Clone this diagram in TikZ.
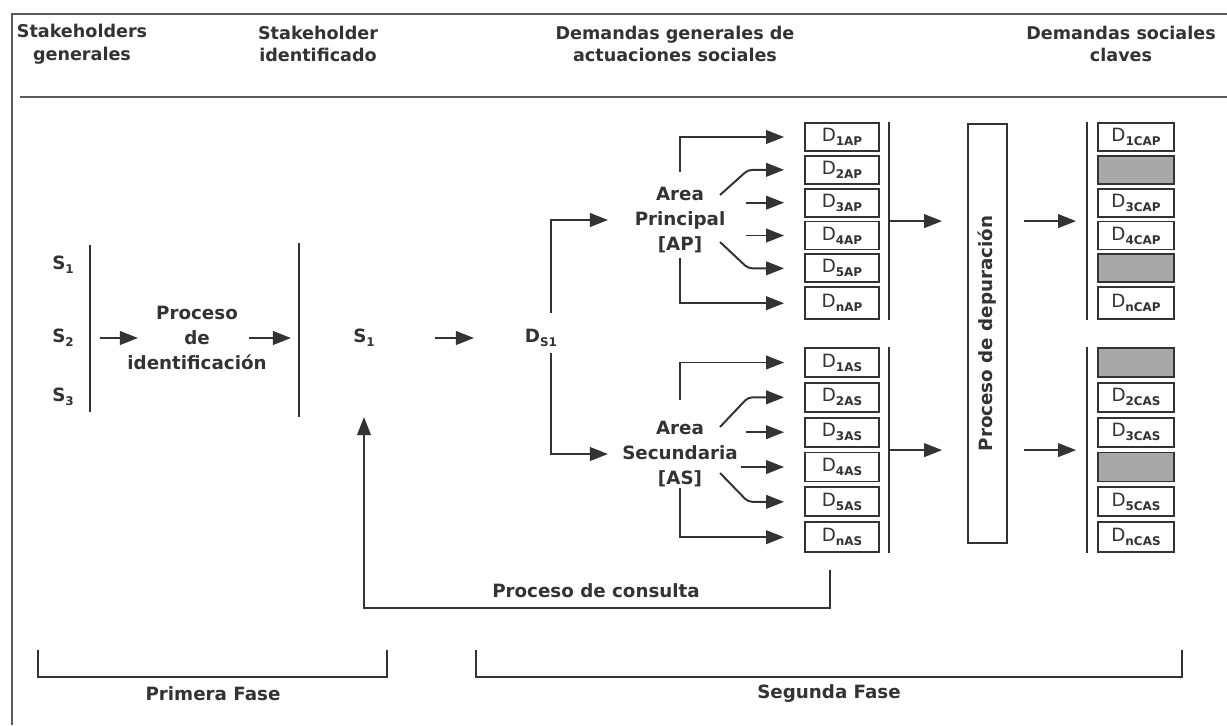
\documentclass[tikz,border=0pt]{standalone}
\usepackage{fontspec}
\setmainfont{DejaVu Sans}
\usetikzlibrary{arrows.meta, positioning, calc}

\definecolor{ink}{HTML}{333333}
\definecolor{rulegrey}{HTML}{5A5A5A}
\definecolor{cellgrey}{HTML}{A8A8A8}

% small lowered index for the S and D labels
\newcommand{\idx}[1]{\raisebox{-0.4ex}{\fontsize{8.5}{9}\selectfont\bfseries #1}}

\begin{document}
\begin{tikzpicture}[
    x=0.025cm, y=-0.025cm,
    font=\fontsize{13}{17.8}\selectfont\bfseries,
    text=ink,
    % Text
    head/.style={align=center, font=\fontsize{12.5}{16}\selectfont\bfseries},
    lbl/.style={align=center, inner sep=2pt},
    % Boxes
    dbox/.style={rectangle, draw=ink, line width=1.3pt, fill=white, minimum width=1.85cm, minimum height=0.7cm, inner sep=0pt, font=\fontsize{13}{13}\selectfont},
    cbox/.style={dbox, minimum width=1.9cm},
    gbox/.style={cbox, fill=cellgrey},
    depu_box/.style={rectangle, draw=ink, line width=1.3pt, minimum width=0.975cm, minimum height=10.475cm, inner sep=0pt, font=\fontsize{13}{13}\selectfont\bfseries},
    % Connectors
    line/.style={line width=1.4pt, draw=ink},
    arr/.style={line, -{Triangle[length=0.45cm, width=0.34cm]}},
    bar/.style={line width=1.5pt, draw=ink},
    frame/.style={line width=1.5pt, draw=rulegrey},
    bracket/.style={line width=1.7pt, draw=ink},
]

\useasboundingbox (0,0) rectangle (1227,725);
\fill[white] (0,0) rectangle (1227,725);

% Frame and header rule
\draw[frame] (1227,14) -- (12,14) -- (12,725);
\draw[frame] (20,97) -- (1227,97);

% Headers
\node[head] (hGen) at (82,44) {Stakeholders\\generales};
\node[head] (hIdent) at (318,44) {Stakeholder\\identificado};
\node[head] (hDem) at (675,44) {Demandas generales de\\actuaciones sociales};
\node[head] (hClave) at (1121,44) {Demandas sociales\\claves};

% 1. Identificacion
\node (s1) at (63,265) {S\idx{1}};
\node (s2) at (63,338) {S\idx{2}};
\node (s3) at (63,397) {S\idx{3}};
\coordinate (barA1) at (90,245);
\coordinate (barA2) at (90,412);
\draw[bar] (barA1) -- (barA2);

\node[lbl] (ident) at (197,338) {Proceso\\de\\identificación};
\coordinate (barB1) at (299,243);
\coordinate (barB2) at (299,417);
\draw[bar] (barB1) -- (barB2);

\draw[arr, shorten <=0.25cm, shorten >=1.475cm] (barA1 |- ident) -- (ident.center);
\draw[arr, shorten <=1.3cm, shorten >=0.2cm] (ident.center) -- (barB1 |- ident);

\node (sid) at (364,338) {S\idx{1}};
\node (ds1) at (541,338) {D\idx{S1}};
\draw[arr, shorten <=1.775cm, shorten >=1.675cm] (sid.center) -- (ds1.center);

% 2. Areas
\coordinate (ds1up) at (551,313);
\coordinate (ds1dn) at (551,353);
\node[lbl] (areaP) at (680,220) {Area\\Principal\\{[AP]}};
\node[lbl] (areaS) at (680,454) {Area\\Secundaria\\{[AS]}};
\draw[arr, shorten >=1.8cm] (ds1up) |- (areaP.center);
\draw[arr, shorten >=1.8cm] (ds1dn) |- (areaS.center);

% Demandas area principal
\node[dbox] (dap1) at (842,137) {D\idx{1AP}};
\node[dbox, below=0.075cm of dap1] (dap2) {D\idx{2AP}};
\node[dbox, below=0.075cm of dap2] (dap3) {D\idx{3AP}};
\node[dbox, below=0.075cm of dap3] (dap4) {D\idx{4AP}};
\node[dbox, below=0.075cm of dap4] (dap5) {D\idx{5AP}};
\node[dbox, below=0.075cm of dap5, minimum height=0.8cm] (dapn) {D\idx{nAP}};

% Demandas area secundaria
\node[dbox, minimum height=0.725cm] (das1) at (842,362.5) {D\idx{1AS}};
\node[dbox, minimum height=0.725cm, below=0.1cm of das1] (das2) {D\idx{2AS}};
\node[dbox, minimum height=0.725cm, below=0.1cm of das2] (das3) {D\idx{3AS}};
\node[dbox, minimum height=0.725cm, below=0.1cm of das3] (das4) {D\idx{4AS}};
\node[dbox, minimum height=0.725cm, below=0.1cm of das4] (das5) {D\idx{5AS}};
\node[dbox, minimum height=0.75cm, below=0.1cm of das5] (dasn) {D\idx{nAS}};

% Area -> demandas
\draw[arr, shorten >=0.5cm] ([shift={(0,-48)}]areaP.center) |- (dap1);
\draw[arr, shorten >=0.5cm, rounded corners=3pt] ([shift={(40,-25)}]areaP.center) -- ([xshift=-1.4cm]dap2.west) -- (dap2.west);
\draw[arr, shorten >=0.5cm] ([xshift=-1.45cm]dap3.west) -- (dap3.west);
\draw[arr, shorten >=0.5cm] ([xshift=-1.45cm]dap4.west) -- (dap4.west);
\draw[arr, shorten >=0.5cm, rounded corners=3pt] ([shift={(40,22)}]areaP.center) -- ([xshift=-1.4cm]dap5.west) -- (dap5.west);
\draw[arr, shorten >=0.5cm] ([shift={(0,38)}]areaP.center) |- (dapn);

\draw[arr, shorten >=0.5cm] ([shift={(0,-54)}]areaS.center) |- (das1);
\draw[arr, shorten >=0.5cm, rounded corners=3pt] ([shift={(40,-27)}]areaS.center) -- ([xshift=-1.4cm]das2.west) -- (das2.west);
\draw[arr, shorten >=0.5cm] ([xshift=-1.45cm]das3.west) -- (das3.west);
\draw[arr, shorten >=0.5cm] ([xshift=-1.575cm]das4.west) -- (das4.west);
\draw[arr, shorten >=0.5cm, rounded corners=3pt] ([shift={(40,19)}]areaS.center) -- ([xshift=-1.4cm]das5.west) -- (das5.west);
\draw[arr, shorten >=0.5cm] ([shift={(0,34)}]areaS.center) |- (dasn);

% Bars after the stacks
\coordinate (apbarT) at ([xshift=0.225cm]dap1.north east);
\coordinate (apbarB) at ([xshift=0.225cm]dapn.south east);
\coordinate (asbarT) at ([xshift=0.225cm]das1.north east);
\coordinate (asbarB) at ([xshift=0.225cm]dasn.south east);
\draw[bar] (apbarT) -- (apbarB);
\draw[bar] (asbarT) -- (asbarB);
\coordinate (apmid) at ($(apbarT)!0.5!(apbarB)$);
\coordinate (asmid) at ($(asbarT)!0.5!(asbarB)$);

% 3. Depuracion
\node[depu_box] (depu) at (987.5,333.5) {\rotatebox{90}{Proceso de depuración}};

% Demandas claves
\node[cbox] (cap1) at (1136,137) {D\idx{1CAP}};
\node[gbox, below=0.075cm of cap1] (cap2) {};
\node[cbox, below=0.075cm of cap2] (cap3) {D\idx{3CAP}};
\node[cbox, below=0.075cm of cap3] (cap4) {D\idx{4CAP}};
\node[gbox, below=0.075cm of cap4] (cap5) {};
\node[cbox, below=0.075cm of cap5, minimum height=0.8cm] (capn) {D\idx{nCAP}};

\node[gbox, minimum height=0.725cm] (cas1) at (1136,362.5) {};
\node[cbox, minimum height=0.725cm, below=0.1cm of cas1] (cas2) {D\idx{2CAS}};
\node[cbox, minimum height=0.725cm, below=0.1cm of cas2] (cas3) {D\idx{3CAS}};
\node[gbox, minimum height=0.725cm, below=0.1cm of cas3] (cas4) {};
\node[cbox, minimum height=0.725cm, below=0.1cm of cas4] (cas5) {D\idx{5CAS}};
\node[cbox, minimum height=0.75cm, below=0.1cm of cas5] (casn) {D\idx{nCAS}};

\coordinate (capbarT) at ([xshift=-0.25cm]cap1.north west);
\coordinate (capbarB) at ([xshift=-0.25cm]capn.south west);
\coordinate (casbarT) at ([xshift=-0.25cm]cas1.north west);
\coordinate (casbarB) at ([xshift=-0.25cm]casn.south west);
\draw[bar] (capbarT) -- (capbarB);
\draw[bar] (casbarT) -- (casbarB);
\coordinate (capmid) at ($(capbarT)!0.5!(capbarB)$);
\coordinate (casmid) at ($(casbarT)!0.5!(casbarB)$);

\draw[arr, shorten >=0.625cm] (apmid) -- (apmid -| depu.west);
\draw[arr, shorten >=0.625cm] (asmid) -- (asmid -| depu.west);
\draw[arr, shorten <=0.4cm, shorten >=0.275cm] (depu.east |- capmid) -- (capmid);
\draw[arr, shorten <=0.4cm, shorten >=0.275cm] (depu.east |- casmid) -- (casmid);

% Consulta loop
\coordinate (consultaTop) at (830,570);
\draw[arr, shorten >=1.975cm] (consultaTop) -- ++(0,38) -| (sid.center);
\node (consulta) at (596,591) {Proceso de consulta};

% Fases
\draw[bracket] (38,650) |- (387,677) -- (387,650);
\draw[bracket] (476,650) |- (1182,677) -- (1182,650);
\node (fase1) at (213,694) {Primera Fase};
\node (fase2) at (829,694) {Segunda Fase};

\end{tikzpicture}
\end{document}
